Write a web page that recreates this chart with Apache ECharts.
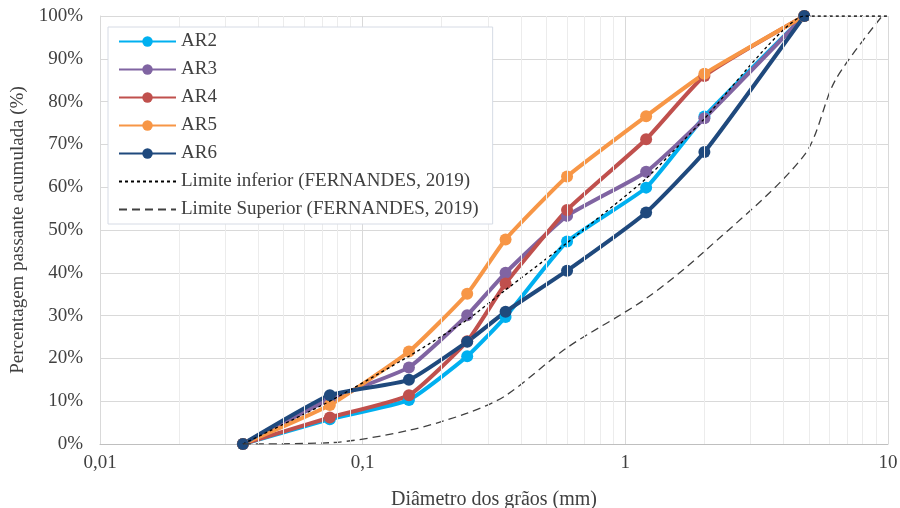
<!DOCTYPE html>
<html>
<head>
<meta charset="utf-8">
<script src="https://cdn.jsdelivr.net/npm/echarts@6/dist/echarts.min.js"></script>
<style>html,body{margin:0;padding:0;background:#fff}#c{width:900px;height:508px}</style>
</head>
<body>
<div id="c"></div>
<script>
const sizes = [0.035, 0.075, 0.15, 0.25, 0.35, 0.6, 1.2, 2.0, 4.8];
const AR2 = [0, 5.8, 10.3, 20.5, 29.7, 47.3, 59.9, 76.5, 100];
const AR3 = [0, 10.5, 17.9, 30.1, 40.0, 53.3, 63.6, 76.1, 100];
const AR4 = [0, 6.2, 11.4, 24.0, 37.5, 54.7, 71.2, 86.0, 100];
const AR5 = [0, 9.1, 21.6, 35.1, 47.8, 62.5, 76.6, 86.5, 100];
const AR6 = [0, 11.4, 15.0, 23.9, 30.9, 40.5, 54.1, 68.2, 100];

const lowerSizes = [0.035, 0.075, 0.15, 0.25, 0.35, 0.6, 1.2, 2.0, 4.8, 10];
const lowerLimit = [0, 10, 20.5, 29, 36, 47, 62, 76, 100, 100];
const upperSizes = [0.035, 0.075, 0.15, 0.25, 0.35, 0.6, 1.2, 2.0, 4.8, 6.3, 9.5];
const upperLimit = [0, 0.3, 3.2, 7.2, 11.3, 22.5, 34, 45, 67.5, 85, 100];

const minorTicks = [0.02,0.03,0.04,0.05,0.06,0.07,0.08,0.09,
                    0.2,0.3,0.4,0.5,0.6,0.7,0.8,0.9,
                    2,3,4,5,6,7,8,9];
const xTickLabels = {0.01: '0,01', 0.1: '0,1', 1: '1', 10: '10'};

const names = ['AR2','AR3','AR4','AR5','AR6'];
const values = [AR2, AR3, AR4, AR5, AR6];
const colors = ['#00b0f0', '#8064a2', '#c0504d', '#f79646', '#1f497d'];
const limNames = ['Limite inferior (FERNANDES, 2019)', 'Limite Superior (FERNANDES, 2019)'];

const FONT = "'Liberation Serif', 'Times New Roman', serif";
const pair = (xs, ys) => xs.map((x, i) => [x, ys[i]]);

const series = [{
  type: 'line', data: [], z: 1, silent: true,
  markLine: {
    silent: true, symbol: 'none', animation: false,
    label: {show: false},
    lineStyle: {color: '#ececec', type: 'solid', width: 1},
    data: minorTicks.map(v => ({xAxis: v}))
  }
}];
names.forEach((n, i) => series.push({
  name: n, type: 'line', z: 2,
  data: pair(sizes, values[i]),
  smooth: 0.15,
  symbol: 'circle', symbolSize: 12,
  itemStyle: {color: colors[i]},
  lineStyle: {color: colors[i], width: 4},
  animation: false
}));
series.push({
  name: limNames[0], type: 'line', z: 3,
  data: pair(lowerSizes, lowerLimit), smooth: 0.15,
  symbol: 'none', itemStyle: {color: '#000'},
  lineStyle: {color: '#000', width: 1.3, type: [3, 3]},
  animation: false
});
series.push({
  name: limNames[1], type: 'line', z: 3,
  data: pair(upperSizes, upperLimit), smooth: 0.3,
  symbol: 'none', itemStyle: {color: '#404040'},
  lineStyle: {color: '#404040', width: 1.3, type: [8, 5]},
  animation: false
});

const chart = echarts.init(document.getElementById('c'), null, {renderer: 'canvas'});
chart.setOption({
  animation: false,
  backgroundColor: '#fff',
  grid: {left: 100, right: 12, top: 16, bottom: 64, containLabel: false, outerBoundsMode: 'none'},
  legend: {
    z: 20,
    data: names.map(n => ({name: n})).concat(limNames.map(n => ({name: n, itemStyle: {opacity: 0}}))),
    orient: 'vertical', left: 108, top: 27,
    itemWidth: 57, itemHeight: 13, itemGap: 9,
    padding: [5, 14, 5, 10],
    backgroundColor: '#fff', borderColor: '#d6dbe5', borderWidth: 1,
    textStyle: {fontFamily: FONT, fontSize: 19, color: '#404040'}
  },
  xAxis: {
    type: 'log', logBase: 10, min: 0.01, max: 10,
    name: 'Diâmetro dos grãos (mm)', nameLocation: 'middle', nameGap: 46,
    nameTextStyle: {fontFamily: FONT, fontSize: 20, color: '#404040'},
    axisLine: {show: true, lineStyle: {color: '#bfbfbf', width: 1}},
    axisTick: {show: false},
    axisLabel: {fontFamily: FONT, fontSize: 19, color: '#404040', margin: 10,
      formatter: v => xTickLabels[v] !== undefined ? xTickLabels[v] : String(v).replace('.', ',')},
    splitLine: {show: true, lineStyle: {color: '#d9d9d9', width: 1}}
  },
  yAxis: {
    type: 'value', min: 0, max: 100, interval: 10,
    name: 'Percentagem passante acumulada (%)', nameLocation: 'middle', nameGap: 67,
    nameTextStyle: {fontFamily: FONT, fontSize: 19, color: '#404040'},
    axisLine: {show: true, lineStyle: {color: '#d9d9d9', width: 1}},
    axisTick: {show: false},
    axisLabel: {fontFamily: FONT, fontSize: 19, color: '#404040', margin: 17, formatter: '{value}%'},
    splitLine: {show: true, lineStyle: {color: '#d9d9d9', width: 1}}
  },
  series: series
});
</script>
</body>
</html>
